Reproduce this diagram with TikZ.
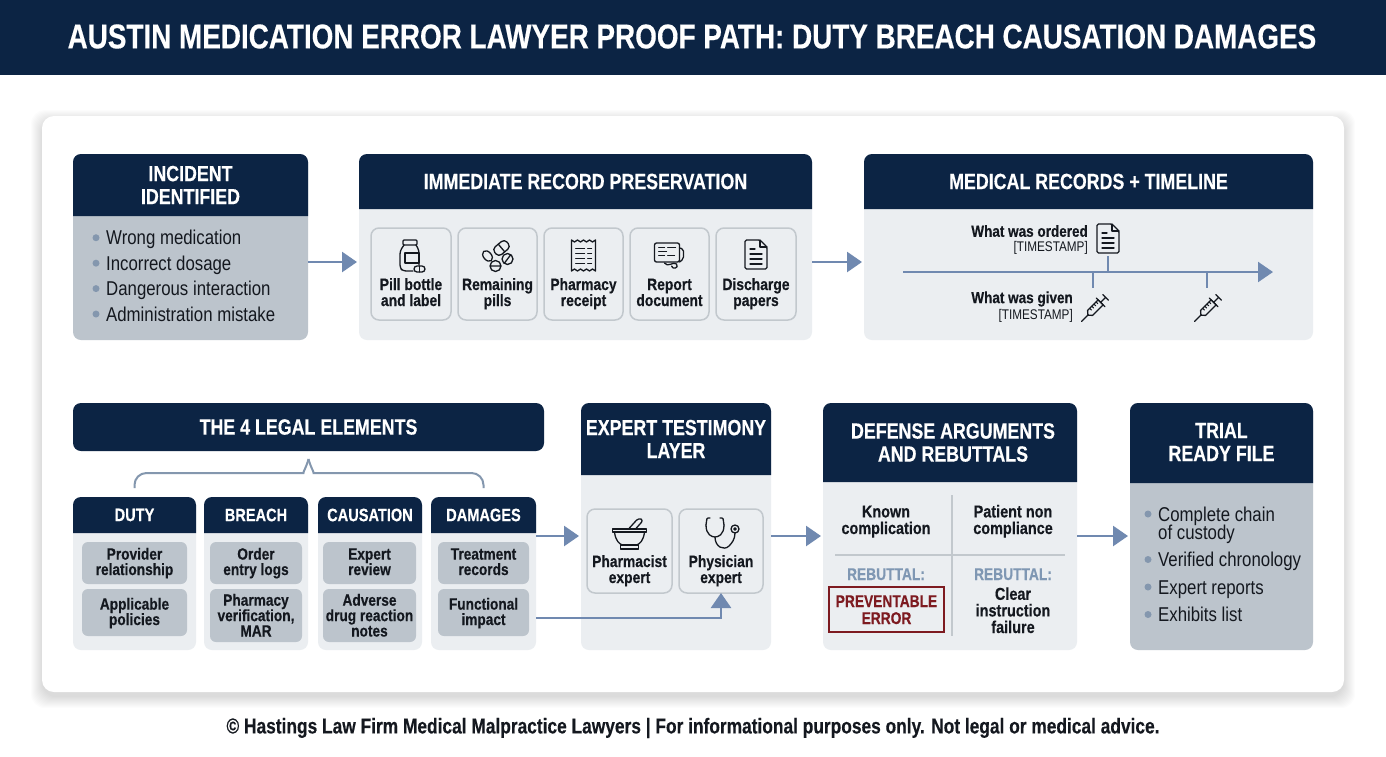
\documentclass[tikz,border=0pt]{standalone}
\usepackage{fontspec}
\setmainfont{Liberation Sans}[FakeStretch=0.84, BoldFeatures={FakeBold=0.35}]
\newfontfamily\headfamily{Liberation Sans}[FakeStretch=0.81, BoldFeatures={FakeBold=0.35}]
\usetikzlibrary{calc, fit, positioning, arrows.meta}

\definecolor{navy}{HTML}{0C2444}
\definecolor{palebox}{HTML}{EBEEF1}
\definecolor{greybox}{HTML}{BCC4CC}
\definecolor{edgegrey}{HTML}{C2C8CD}
\definecolor{flowblue}{HTML}{7089B0}
\definecolor{dotblue}{HTML}{8497AE}
\definecolor{rebuttalblue}{HTML}{7F97B3}
\definecolor{inkblack}{HTML}{14181F}
\definecolor{errorred}{HTML}{7D1A20}

\tikzset{
    sized/.style n args={2}{font=\bfseries\fontsize{#1}{#2}\selectfont},
    headsized/.style n args={2}{font=\headfamily\bfseries\fontsize{#1}{#2}\selectfont},
    paneltitle/.style={headsized={22}{23}},
    columntitle/.style={headsized={18}{20}},
    panelbody/.style={inner sep=0pt, outer sep=0pt, rounded corners=8pt},
    headtext/.style={text=white, align=center, inner sep=0pt},
    itembox/.style={panelbody, fill=palebox, draw=edgegrey, line width=1.5pt},
    itemlabel/.style={sized={16.5}{16}, text=inkblack, align=center, inner sep=0pt, anchor=base},
    factbox/.style={panelbody, fill=greybox, rounded corners=6pt},
    factlabel/.style={sized={16.3}{15.4}, text=inkblack, align=center, inner sep=0pt, anchor=base},
    sidelabel/.style={sized={17.2}{16.6}, text=inkblack, align=center, inner sep=0pt, anchor=base},
    listtext/.style={font=\fontsize{20}{24}\selectfont, text=inkblack, anchor=west, inner sep=0pt, text height=14pt, text depth=0pt},
    dot/.style={circle, fill=dotblue, inner sep=0pt, minimum size=7pt},
    flow/.style={draw=flowblue, line width=2.6pt, -{Triangle[length=15pt,width=20pt]}},
    tick/.style={draw=flowblue, line width=2.2pt},
    icon/.style={draw=inkblack, line width=1.3pt, line join=round, line cap=round},
    notehead/.style={sized={16.1}{17}, text=inkblack, anchor=east, inner sep=0pt},
    notestamp/.style={font=\fontsize{14}{17}\selectfont, text=inkblack, anchor=east, inner sep=0pt},
    rebuttal/.style={headsized={17}{18}, text=rebuttalblue, inner sep=0pt, anchor=base},
    pics/bottleicon/.style={code={
        \draw[icon, rounded corners=1pt] (-8,-15) rectangle (6,-10);
        \draw[icon, rounded corners=3pt] (2,16) -- (-8,16) -- (-11,13) -- (-11,-4) -- (-7,-10) (5,-10) -- (8,-5) -- (8,10);
        \draw[icon] (-6,-2) rectangle (8,8);
        \draw[icon, fill=palebox, rounded corners=3pt] (3,11) rectangle (14,17);
        \draw[icon] (8.5,11) -- (8.5,17);
    }},
    pics/pillsicon/.style={code={
        \draw[icon, rotate around={-50:(-10,1)}] (-10,1) ellipse (6 and 4);
        \draw[icon, rounded corners=4pt, rotate around={40:(4,-7)}] (-4,-12) rectangle (12,-2);
        \draw[icon, rotate around={40:(4,-7)}] (4,-12) -- (4,-2);
        \draw[icon] (10,4) circle (5.5) (7,8) -- (13,0);
        \draw[icon] (-2,11) circle (5.5) (-7,11) -- (3,11);
    }},
    pics/receipticon/.style={code={
        \draw[icon] (-12,-15) -- (-9,-13) -- (-6,-15) -- (-3,-13) -- (0,-15) -- (3,-13) -- (6,-15) -- (9,-13) -- (12,-15) -- (12,16) -- (9,14) -- (6,16) -- (3,14) -- (0,16) -- (-3,14) -- (-6,16) -- (-9,14) -- (-12,16) -- cycle;
        \foreach \rowy in {-7,-2,3,8}
            \draw[icon, line width=1pt] (-8,\rowy) -- (1,\rowy) (4,\rowy) -- (8,\rowy);
    }},
    pics/reporticon/.style={code={
        \draw[icon, rounded corners=2pt] (-15,-12) rectangle (10,7);
        \draw[icon, line width=1pt] (-11,-8) -- (-5,-8) (-2,-8) -- (6,-8) (-11,-4) -- (-3,-4) (-11,0) -- (-5,0) (-2,0) -- (5,0);
        \draw[icon, rounded corners=2pt] (10,-7) -- (14,-6) -- (14,4) -- (10,7);
        \draw[icon] (-5,8) .. controls (-2,13) and (4,6) .. (7,9) .. controls (10,13) and (3,15) .. (2,11);
    }},
    pics/docicon/.style={code={
        \draw[icon, rounded corners=1.5pt] (-11,-15) -- (4,-15) -- (11,-8) -- (11,14) -- (-11,14) -- cycle;
        \draw[icon] (4,-15) -- (4,-8) -- (11,-8);
        \draw[icon] (-6,-6) -- (-1,-6) (-6,-1) -- (6,-1) (-6,4) -- (6,4) (-6,9) -- (6,9);
    }},
    pics/syringeicon/.style={code={
        \begin{scope}[rotate=45]
            \draw[icon] (-19,0) -- (-10,0);
            \draw[icon] (-10,0) -- (-7,-3.5) -- (8,-3.5) -- (8,3.5) -- (-7,3.5) -- cycle;
            \draw[icon] (8,-6) -- (8,6) (8,0) -- (15,0) (15,-4) -- (15,4);
            \draw[icon, line width=1pt] (-4,-3.5) -- (-4,-1) (-1,-3.5) -- (-1,-1) (2,-3.5) -- (2,-1) (5,-3.5) -- (5,-1);
        \end{scope}
    }},
    pics/mortaricon/.style={code={
        \draw[icon] (-17,-4) rectangle (17,-1);
        \draw[icon] (-15,-1) .. controls (-14,8) and (-10,11) .. (-7,12) -- (7,12) .. controls (10,11) and (14,8) .. (15,-1);
        \draw[icon] (-9,12) rectangle (9,16);
        \draw[icon, rounded corners=3pt] (-1,-4) -- (9,-15) -- (14,-13) -- (6,-4);
    }},
    pics/stethicon/.style={code={
        \draw[icon, rounded corners=1pt] (-11,-15) -- (-14,-15) -- (-15,-8);
        \draw[icon] (-15,-8) .. controls (-15,2) and (-9,4) .. (-6,4) .. controls (-3,4) and (3,2) .. (3,-8);
        \draw[icon, rounded corners=1pt] (3,-8) -- (2,-15) -- (-1,-15);
        \draw[icon] (-6,4) .. controls (-6,14) and (3,18) .. (8,13) .. controls (11,10) and (14,6) .. (14,0);
        \draw[icon] (14,-4) circle (4) (14,-4) circle (1.2);
    }},
}

% panel with a navy header band: name, x0, y0, x1, header bottom, y1, body colour, title style, title
\newcommand{\panel}[9]{
    \node[panelbody, fill=#7, fit={(#2,#3) (#4,#6)}] (#1) {};
    \fill[navy] (#2,#5) [rounded corners=8pt] -- (#2,#3) -- (#4,#3) [sharp corners] -- (#4,#5) -- cycle;
    \node[headtext, #8] (#1-head) at ($(#2,#3)!.5!(#4,#5)$) {#9};
}
% framed item with an icon: name, x0, y0, x1, y1, icon, icon drop, last baseline, label
\newcommand{\itemcard}[9]{
    \node[itembox, fit={(#2,#3) (#4,#5)}] (#1) {};
    \pic at ($(#1.north)+(0,#7)$) {#6};
    \node[itemlabel] (#1-label) at (#1.center |- 0,#8) {#9};
}
% grey fact box: name, x0, y0, x1, y1, last baseline, label
\newcommand{\factcard}[7]{
    \node[factbox, fit={(#2,#3) (#4,#5)}] (#1) {};
    \node[factlabel] (#1-label) at (#1.center |- 0,#6) {#7};
}

\begin{document}
\begin{tikzpicture}[x=1pt, y=-1pt]
    \useasboundingbox (0,0) rectangle (1386,756);
    \fill[white] (0,0) rectangle (1386,756);

    % title band
    \fill[navy] (0,0) rectangle (1386,75);
    \node[headtext, headsized={34.4}{40}] (title) at (692,36.5) {AUSTIN MEDICATION ERROR LAWYER PROOF PATH: DUTY BREACH CAUSATION DAMAGES};

    % soft shadow, then the card
    \foreach \grow in {11,10,9,8,7,6,5,4,3,2,1,0}
        \fill[black, opacity=0.01, rounded corners=14pt] (42-\grow,116-\grow+5) rectangle (1344+\grow,692+\grow+5);
    \node[panelbody, fill=white, rounded corners=12pt, fit={(42,116) (1344,692)}] (card) {};

    % top row
    \panel{incident}{73}{154}{308}{216}{340}{greybox}{paneltitle}{INCIDENT\\IDENTIFIED}
    \foreach \txt [count=\i, evaluate=\i as \rowy using 212.3+25.43*\i] in {Wrong medication, Incorrect dosage, Dangerous interaction, Administration mistake} {
        \node[dot] (incident-dot\i) at (96,\rowy) {};
        \node[listtext] (incident-item\i) at (106,\rowy) {\txt};
    }

    \panel{preserve}{359}{154}{812}{209}{340}{palebox}{paneltitle}{IMMEDIATE RECORD PRESERVATION}
    \itemcard{bottle}{371}{228}{451}{320}{bottleicon}{27}{306}{Pill bottle\\and label}
    \itemcard{pills}{458}{228}{537}{320}{pillsicon}{27}{306}{Remaining\\pills}
    \itemcard{receipt}{544}{228}{623}{320}{receipticon}{27}{306}{Pharmacy\\receipt}
    \itemcard{report}{630}{228}{709}{320}{reporticon}{27}{306}{Report\\document}
    \itemcard{discharge}{716}{228}{796}{320}{docicon}{27}{306}{Discharge\\papers}

    \panel{records}{864}{154}{1313}{209}{340}{palebox}{paneltitle}{MEDICAL RECORDS + TIMELINE}
    \coordinate (line-start) at (903,272);
    \coordinate (line-end) at (1273,272);
    \draw[flow, line width=2.2pt] (line-start) -- (line-end);
    \coordinate (tick-order) at (1108,272);
    \coordinate (tick-given) at (1093,272);
    \coordinate (tick-later) at (1207,272);
    \draw[tick] (tick-order) -- ++(0,-16);
    \draw[tick] (tick-given) -- ++(0,16);
    \draw[tick] (tick-later) -- ++(0,16);
    \node[notehead] (ordered) at (1088,231) {What was ordered};
    \node[notestamp] (ordered-time) at (1088,248) {[TIMESTAMP]};
    \node[notehead] (given) at (1073,299) {What was given};
    \node[notestamp] (given-time) at (1073,316) {[TIMESTAMP]};
    \pic at (1108,239) {docicon};
    \pic at (1095,308) {syringeicon};
    \pic at (1208,308) {syringeicon};

    % bottom row, the four elements
    \node[panelbody, fill=navy, fit={(73,403) (544,451)}] (elements) {};
    \node[headtext, headsized={22}{24}] (elements-head) at (elements.center) {THE 4 LEGAL ELEMENTS};
    \panel{duty}{73}{497}{196}{533}{650}{palebox}{columntitle}{DUTY}
    \panel{breach}{204}{497}{308}{533}{650}{palebox}{columntitle}{BREACH}
    \panel{causation}{318}{497}{422}{533}{650}{palebox}{columntitle}{CAUSATION}
    \panel{damages}{431}{497}{536}{533}{650}{palebox}{columntitle}{DAMAGES}
    \draw[draw=dotblue, line width=2pt, rounded corners=12pt] ($(duty.north)+(0,-9)$) -- ($(duty.north)+(0,-24)$) -- ++(157,0) [sharp corners] .. controls +(11,0) and +(-2,8) .. ($(elements.south)+(0,8)$);
    \draw[draw=dotblue, line width=2pt, rounded corners=12pt] ($(damages.north)+(0,-9)$) -- ($(damages.north)+(0,-24)$) -- ++(-158,0) [sharp corners] .. controls +(-11,0) and +(2,8) .. ($(elements.south)+(0,8)$);

    \factcard{provider}{82}{542}{187}{584}{575}{Provider\\relationship}
    \factcard{policies}{82}{589}{187}{636}{625}{Applicable\\policies}
    \factcard{orders}{210}{542}{302}{584}{575}{Order\\entry logs}
    \factcard{verify}{210}{589}{302}{642}{636.5}{Pharmacy\\verification,\\MAR}
    \factcard{review}{323}{542}{416}{584}{575}{Expert\\review}
    \factcard{adverse}{323}{589}{416}{642}{636.5}{Adverse\\drug reaction\\notes}
    \factcard{treatment}{438}{542}{529}{584}{575}{Treatment\\records}
    \factcard{impact}{438}{589}{529}{636}{625}{Functional\\impact}

    % experts
    \panel{expert}{581}{403}{771}{475}{650}{palebox}{paneltitle}{EXPERT TESTIMONY\\LAYER}
    \itemcard{pharmacist}{587}{509}{672}{593}{mortaricon}{24}{583}{Pharmacist\\expert}
    \itemcard{physician}{679}{509}{763}{593}{stethicon}{24}{583}{Physician\\expert}

    % defense
    \panel{defense}{823}{403}{1077}{482}{650}{palebox}{paneltitle, xshift=3pt}{DEFENSE ARGUMENTS\\AND REBUTTALS}
    \coordinate (split-top) at (952,495);
    \coordinate (split-bottom) at (952,636);
    \coordinate (split-left) at (835,555);
    \coordinate (split-right) at (1065,555);
    \draw[edgegrey, line width=1.6pt] (split-top) -- (split-bottom);
    \draw[edgegrey, line width=1.6pt] (split-left) -- (split-right);
    \node[sidelabel] (known) at (886,534) {Known\\complication};
    \node[sidelabel] (noncomply) at (1013,534) {Patient non\\compliance};
    \node[rebuttal] (rebuttal-a) at (886,580) {REBUTTAL:};
    \node[rebuttal] (rebuttal-b) at (1013,580) {REBUTTAL:};
    \node[draw=errorred, fill=palebox, line width=2.4pt, inner sep=0pt, fit={(829,587) (944,632)}] (preventable) {};
    \node[headsized={17}{17}, text=errorred, align=center, inner sep=0pt, anchor=base] (preventable-label) at (886.5,624) {PREVENTABLE\\ERROR};
    \node[sidelabel] (clear) at (1013,633) {Clear\\instruction\\failure};

    % trial file
    \panel{trial}{1130}{403}{1313}{483}{650}{greybox}{paneltitle, yshift=1pt}{TRIAL\\READY FILE}
    \node[dot] (trial-dot1) at (1148,514) {};
    \node[listtext] (trial-item1) at (1158,514) {Complete chain};
    \node[listtext] (trial-item1b) at (1158,532) {of custody};
    \node[dot] (trial-dot2) at (1148,559.5) {};
    \node[listtext] (trial-item2) at (1158,559.5) {Verified chronology};
    \node[dot] (trial-dot3) at (1148,587) {};
    \node[listtext] (trial-item3) at (1158,587) {Expert reports};
    \node[dot] (trial-dot4) at (1148,614.5) {};
    \node[listtext] (trial-item4) at (1158,614.5) {Exhibits list};

    % connectors
    \draw[flow] ($(incident.east)+(0,15)$) -- ($(preserve.west)+(-2,15)$);
    \draw[flow] ($(preserve.east)+(0,15)$) -- ($(records.west)+(-2,15)$);
    \draw[flow] (damages.east |- 0,536) -- ($(expert.west |- 0,536)+(-2,0)$);
    \draw[flow] (damages.east |- 0,618) -| (physician.south);
    \draw[flow] (expert.east |- 0,536) -- ($(defense.west |- 0,536)+(-2,0)$);
    \draw[flow] (defense.east |- 0,536) -- ($(trial.west |- 0,536)+(-2,0)$);

    % footer
    \node[text=inkblack, headsized={21.4}{24}, inner sep=0pt] (footer) at (693,728) {© Hastings Law Firm Medical Malpractice Lawyers | For informational purposes only. Not legal or medical advice.};
\end{tikzpicture}
\end{document}
